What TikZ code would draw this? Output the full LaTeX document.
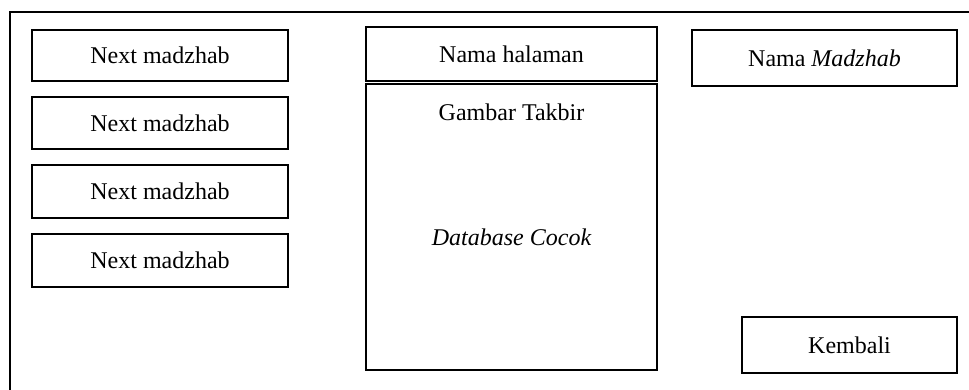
\documentclass[tikz,border=0pt]{standalone}
\usepackage{fontspec}
\setmainfont{Liberation Serif}
\begin{document}
\begin{tikzpicture}[x=0.5pt,y=-0.5pt,
  panel/.style={draw, line width=1.45pt, rectangle, inner sep=0pt, outer sep=0pt, font=\fontsize{12}{14}\selectfont},
  label/.style={inner sep=0pt, font=\fontsize{12}{14}\selectfont}]
\useasboundingbox (0,0) rectangle (969,390);
% outer page frame (open on the right and bottom)
\coordinate (frameTR) at (969,12);
\coordinate (frameTL) at (10,12);
\coordinate (frameBL) at (10,390);
\draw[line width=1.45pt] (frameTR) -- (frameTL) -- (frameBL);

% list of other madzhab buttons
\node[panel, minimum width=128pt, minimum height=25.5pt] (next1) at (160,55.5) {Next madzhab};
\node[panel, minimum width=128pt, minimum height=26pt] (next2) at (160,123) {Next madzhab};
\node[panel, minimum width=128pt, minimum height=26.5pt] (next3) at (160,191.5) {Next madzhab};
\node[panel, minimum width=128pt, minimum height=26.5pt] (next4) at (160,260.5) {Next madzhab};

% page title and content area
\node[panel, minimum width=145.5pt, minimum height=27pt] (title) at (511.5,54) {Nama halaman};
\node[panel, minimum width=145.5pt, minimum height=143pt] (content) at (511.5,227) {};
\node[label] (image) at (511.5,112) {Gambar Takbir};
\node[label] (db) at (511.5,237) {\itshape Database Cocok};

% madzhab name and back button
\node[panel, minimum width=132.5pt, minimum height=28pt] (name) at (824.5,58) {Nama \textit{Madzhab}};
\node[panel, minimum width=107.5pt, minimum height=28pt] (back) at (849.5,345) {Kembali};
\end{tikzpicture}
\end{document}
